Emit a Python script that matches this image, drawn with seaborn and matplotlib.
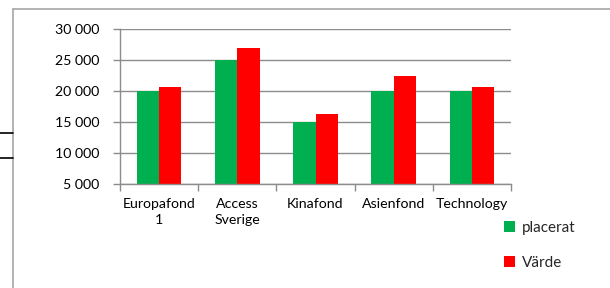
import matplotlib
matplotlib.use("Agg")
import matplotlib.pyplot as plt
from matplotlib.lines import Line2D
from matplotlib.ticker import FuncFormatter, FixedLocator
import seaborn as sns
import pandas as pd

categories = ["Europafond\n1", "Access\nSverige", "Kinafond", "Asienfond", "Technology"]
placerat = [20000, 25000, 15000, 20000, 20000]
varde = [20700, 26900, 16300, 22400, 20650]
series_names = ["placerat", "Värde"]
colors = ["#00B050", "#FF0000"]

df = pd.DataFrame({
    "fond": categories * 2,
    "value": placerat + varde,
    "serie": [series_names[0]] * len(categories) + [series_names[1]] * len(categories),
})

sns.set_theme(style="white")
plt.rcParams["font.family"] = ["Lato", "DejaVu Sans"]

W, H = 610, 288
fig = plt.figure(figsize=(W / 100, H / 100), dpi=100)
ax = fig.add_axes([120 / W, (H - 184) / H, 391 / W, 155 / H])

sns.barplot(data=df, x="fond", y="value", hue="serie", palette=colors,
            width=0.57, saturation=1, ax=ax, edgecolor="none", linewidth=0)

grid_c = "#8c8c8c"
ax.set_ylim(5000, 30000)
ax.set_xlim(-0.5, len(categories) - 0.5)
ax.set_yticks(range(5000, 30001, 5000))
ax.yaxis.set_major_formatter(FuncFormatter(lambda v, p: f"{int(v):,}".replace(",", " ")))
ax.grid(axis="y", color=grid_c, linewidth=1)
ax.set_axisbelow(True)
for s in ["top", "right"]:
    ax.spines[s].set_visible(False)
for s in ["left", "bottom"]:
    ax.spines[s].set_color(grid_c)
    ax.spines[s].set_linewidth(1)
ax.set_xlabel("")
ax.set_ylabel("")
ax.tick_params(axis="y", which="major", length=5, color=grid_c, width=1,
               labelsize=10.2, pad=10, left=True)
ax.tick_params(axis="x", which="major", length=0, labelsize=10.2, pad=10)
ax.xaxis.set_minor_locator(FixedLocator([i - 0.5 for i in range(len(categories) + 1)]))
ax.tick_params(axis="x", which="minor", length=5, color=grid_c, width=1, bottom=True)
for lab in ax.get_xticklabels():
    lab.set_linespacing(1.45)
    lab.set_color("black")
for lab in ax.get_yticklabels():
    lab.set_color("black")

ax.legend(loc="upper left", bbox_to_anchor=(504 / W, (H - 221) / H),
          bbox_transform=fig.transFigure, frameon=False, fontsize=11,
          handlelength=0.7, handleheight=0.7, handletextpad=0.45,
          labelspacing=1.35, borderaxespad=0, borderpad=0)

# outer chart frame and cell borders
fig.add_artist(Line2D([13 / W, 1], [1 - 9 / H, 1 - 9 / H], color="#a6a6a6", linewidth=1.2))
fig.add_artist(Line2D([13 / W, 13 / W], [0, 1 - 9 / H], color="#a6a6a6", linewidth=1.2))
fig.add_artist(Line2D([0, 13 / W], [1 - 133 / H, 1 - 133 / H], color="black", linewidth=1.2))
fig.add_artist(Line2D([0, 13 / W], [1 - 158 / H, 1 - 158 / H], color="black", linewidth=1.2))

fig.savefig("out.png", dpi=100)
